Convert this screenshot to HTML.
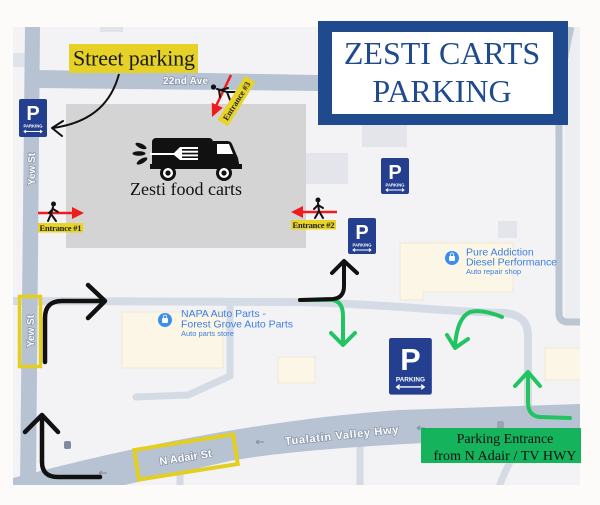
<!DOCTYPE html>
<html><head><meta charset="utf-8"><style>
html,body{margin:0;padding:0;background:#fcfbf9;}
svg{display:block;}
.rl{font-family:"Liberation Sans",sans-serif;font-weight:bold;fill:#fff;stroke:#8592a6;stroke-width:1.4;paint-order:stroke;}
.sf{font-family:"Liberation Serif",serif;}
.ss{font-family:"Liberation Sans",sans-serif;}
</style></head><body>
<svg width="600" height="505" viewBox="0 0 600 505" xmlns="http://www.w3.org/2000/svg">
<defs><clipPath id="mc"><rect x="13" y="27" width="567" height="458"/></clipPath></defs>
<rect width="600" height="505" fill="#fcfbf9"/>
<g clip-path="url(#mc)">
<rect x="13" y="27" width="567" height="458" fill="#f3f3f6"/>
<!-- light areas -->
<rect x="13" y="53" width="12" height="14" fill="#dfe3ea"/>
<rect x="100" y="27" width="23" height="5" fill="#e0e3e9"/>
<rect x="565" y="27" width="15" height="295" fill="#eceef2"/>
<!-- minor roads -->
<path d="M13,301 L300,302 C400,305 450,312 505,313 Q528,315 528,336 L528,410" stroke="#d5dbe4" stroke-width="8" fill="none"/>
<path d="M230,303 L230,376 L188,395 L136,397" stroke="#d5dbe4" stroke-width="7" fill="none" stroke-linejoin="round" stroke-linecap="round"/>
<path d="M571,27 Q558,80 559,140 L559,313 Q559,322 568,322 L582,322" stroke="#bcc6d3" stroke-width="7" fill="none"/>
<path d="M180,465 L180,490 M360,445 L360,490 M514,455 Q505,470 498,490" stroke="#d5dbe4" stroke-width="7" fill="none"/>
<!-- main roads -->
<polygon points="25,27 40,27 36,485 20,485" fill="#b7c3d2"/>
<polygon points="38,70 320,75 320,91 38,88" fill="#b7c3d2"/>
<path d="M13,478 C100,455 250,420 400,410 L580,404 L580,438 C450,440 300,448 230,461 L125,485 L13,485 Z" fill="#b7c3d2"/>
<!-- buildings -->
<rect x="122" y="312" width="101" height="56" fill="#fbf6e5" stroke="#f0e8d2" stroke-width="1"/>
<rect x="278" y="357" width="37" height="26" fill="#fbf6e5" stroke="#f0e8d2" stroke-width="1"/>
<polygon points="400,243 513,243 513,292 423,292 423,300 400,300" fill="#fbf6e5" stroke="#f0e8d2" stroke-width="1"/>
<rect x="545" y="348" width="36" height="32" fill="#fbf6e5" stroke="#f0e8d2" stroke-width="1"/>
<rect x="362" y="125" width="45" height="22" fill="#e3e5ea"/>
<rect x="305" y="153" width="43" height="31" fill="#e3e5ea"/>
<rect x="498" y="221" width="19" height="17" fill="#e3e5ea"/>
<!-- lot -->
<rect x="66" y="104" width="240" height="144" fill="#d4d4d5"/>
</g>
<!-- small road arrows / icons -->
<g stroke="#8a96a8" stroke-width="1.2" fill="none">
<path d="M256,442 H264 M256,442 l3,-2 M256,442 l3,2"/>
<path d="M417,428 H425 M417,428 l3,-2 M417,428 l3,2"/>
<path d="M99,473 H107 M99,473 l3,-2 M99,473 l3,2"/>
</g>
<rect x="64" y="441" width="7" height="8" rx="2" fill="#7f8b9c"/>
<rect x="497" y="421" width="7" height="8" rx="2" fill="#9aa5b4"/>

<!-- road labels -->
<text class="rl" x="163" y="84" font-size="10" textLength="45">22nd Ave</text>
<text class="rl" font-size="10" text-anchor="middle" transform="translate(35,169) rotate(-90)">Yew St</text>
<text class="rl" font-size="10" text-anchor="middle" transform="translate(34,331) rotate(-90)">Yew St</text>
<text class="rl" font-size="11" text-anchor="middle" transform="translate(342,439) rotate(-6)" textLength="114">Tualatin Valley Hwy</text>
<text class="rl" font-size="11" text-anchor="middle" transform="translate(186,461) rotate(-9)">N Adair St</text>

<!-- yellow boxes -->
<rect x="19.5" y="296.5" width="21" height="70" fill="none" stroke="#e3cf1f" stroke-width="3.5"/>
<rect x="-50" y="-15" width="100" height="30" fill="none" stroke="#e3cf1f" stroke-width="4" transform="translate(186,457) rotate(-9)"/>

<!-- POI labels -->
<circle cx="165" cy="320" r="7" fill="#3b8ef0"/>
<rect x="162" y="318" width="6" height="5" rx="1" fill="#fff"/>
<path d="M163.5,318 v-1.5 a1.5,1.5 0 0 1 3,0 v1.5" stroke="#fff" stroke-width="0.8" fill="none"/>
<g class="ss" fill="#3d7fe0">
<text x="181" y="317" font-size="10.5">NAPA Auto Parts -</text>
<text x="181" y="327.5" font-size="10.5" textLength="112">Forest Grove Auto Parts</text>
<text x="181" y="336" font-size="7.5">Auto parts store</text>
</g>
<circle cx="452" cy="258" r="7" fill="#3b8ef0"/>
<rect x="449" y="256" width="6" height="5" rx="1" fill="#fff"/>
<path d="M450.5,256 v-1.5 a1.5,1.5 0 0 1 3,0 v1.5" stroke="#fff" stroke-width="0.8" fill="none"/>
<g class="ss" fill="#3d7fe0">
<text x="466" y="255.5" font-size="10.5">Pure Addiction</text>
<text x="466" y="265.5" font-size="10.5" textLength="91">Diesel Performance</text>
<text x="466" y="274" font-size="7.5">Auto repair shop</text>
</g>

<!-- parking signs -->
<g transform="translate(19,99)">
<rect width="28" height="38" rx="2" fill="#243f8f"/>
<text x="14" y="21" class="ss" font-weight="bold" font-size="20" fill="#fff" text-anchor="middle">P</text>
<text x="14" y="28.5" class="ss" font-weight="bold" font-size="4.2" fill="#fff" text-anchor="middle">PARKING</text>
<path d="M5,32.5 H23 M7,31 L5,32.5 L7,34 M21,31 L23,32.5 L21,34" stroke="#fff" stroke-width="0.9" fill="none"/>
</g>
<g transform="translate(381,158)">
<rect width="28" height="36" rx="2" fill="#243f8f"/>
<text x="14" y="21" class="ss" font-weight="bold" font-size="20" fill="#fff" text-anchor="middle">P</text>
<text x="14" y="28.5" class="ss" font-weight="bold" font-size="4.2" fill="#fff" text-anchor="middle">PARKING</text>
<path d="M5,32 H23 M7,30.5 L5,32 L7,33.5 M21,30.5 L23,32 L21,33.5" stroke="#fff" stroke-width="0.9" fill="none"/>
</g>
<g transform="translate(348,218)">
<rect width="28" height="36" rx="2" fill="#243f8f"/>
<text x="14" y="21" class="ss" font-weight="bold" font-size="20" fill="#fff" text-anchor="middle">P</text>
<text x="14" y="28.5" class="ss" font-weight="bold" font-size="4.2" fill="#fff" text-anchor="middle">PARKING</text>
<path d="M5,32 H23 M7,30.5 L5,32 L7,33.5 M21,30.5 L23,32 L21,33.5" stroke="#fff" stroke-width="0.9" fill="none"/>
</g>
<g transform="translate(389,338) scale(1.53)">
<rect width="28" height="37" rx="1.5" fill="#243f8f"/>
<text x="14" y="21" class="ss" font-weight="bold" font-size="20" fill="#fff" text-anchor="middle">P</text>
<text x="14" y="28.5" class="ss" font-weight="bold" font-size="4.2" fill="#fff" text-anchor="middle">PARKING</text>
<path d="M5,32 H23 M7,30.5 L5,32 L7,33.5 M21,30.5 L23,32 L21,33.5" stroke="#fff" stroke-width="0.9" fill="none"/>
</g>

<!-- truck logo -->
<g fill="#111">
<rect x="152" y="138" width="61" height="30" rx="4"/>
<path d="M213,141 L227,141 Q231,141 232,144 L238,158 L240,169 L213,169 Z"/>
<rect x="150" y="164" width="92" height="5"/>
<ellipse cx="141" cy="146" rx="6" ry="2.3" transform="rotate(25 141 146)"/>
<ellipse cx="139" cy="153.5" rx="6.5" ry="2.3"/>
<ellipse cx="142" cy="161" rx="6" ry="2.3" transform="rotate(-30 142 161)"/>
<circle cx="168" cy="173" r="8"/>
<circle cx="224" cy="173" r="8"/>
</g>
<g fill="#fff">
<path d="M217,144 L229,144 L233,154 L217,154 Z"/>
<path d="M150,153 H174 L180,147 H182 V160 H180 L174,155 H150 Z"/>
<rect x="181" y="147" width="17" height="2"/>
<rect x="181" y="150.7" width="17" height="2"/>
<rect x="181" y="154.4" width="17" height="2"/>
<rect x="181" y="158" width="17" height="2"/>
<circle cx="168" cy="173" r="5"/>
<circle cx="224" cy="173" r="5"/>
</g>
<circle cx="168" cy="173" r="2.6" fill="#111"/>
<circle cx="224" cy="173" r="2.6" fill="#111"/>
<text x="186" y="195" class="sf" font-size="18" fill="#111" text-anchor="middle" textLength="112">Zesti food carts</text>

<!-- entrances -->
<path d="M38,213 H74" stroke="#ee1c1c" stroke-width="2.5"/>
<polygon points="72,207 84,213 72,219" fill="#ee1c1c"/>
<g stroke="#111" stroke-width="2" fill="none" stroke-linecap="round">
<path d="M53,207 L51,214 L48,221 M51,214 L56,221 M53,209 L49,213 M53,209 L58,212"/>
</g>
<circle cx="53.5" cy="204" r="2.5" fill="#111"/>
<rect x="38" y="223" width="45" height="9.5" fill="#e8d426"/>
<text x="60.5" y="231" class="sf" font-size="8.5" font-weight="bold" fill="#222" text-anchor="middle" textLength="42">Entrance #1</text>

<path d="M337,212 H301" stroke="#ee1c1c" stroke-width="2.5"/>
<polygon points="303,206 291,212 303,218" fill="#ee1c1c"/>
<g stroke="#111" stroke-width="2" fill="none" stroke-linecap="round">
<path d="M318,203 L319,211 L315,218 M319,211 L323,218 M318,205 L314,209 M318,205 L323,208"/>
</g>
<circle cx="318" cy="200" r="2.5" fill="#111"/>
<rect x="291" y="220" width="45" height="9.5" fill="#e8d426"/>
<text x="313.5" y="228" class="sf" font-size="8.5" font-weight="bold" fill="#222" text-anchor="middle" textLength="42">Entrance #2</text>

<path d="M231,75 L216,106" stroke="#ee1c1c" stroke-width="2.5"/>
<polygon points="212,117 222.8,107.7 211.8,102.7" fill="#ee1c1c"/>
<g stroke="#111" stroke-width="2" fill="none" stroke-linecap="round">
<path d="M217,89 L227,92 L235,92 M227,92 L230,100 M219,90 L220,97 M221,90 L228,88"/>
</g>
<circle cx="213.5" cy="87" r="2.6" fill="#111"/>
<g transform="translate(236.5,101) rotate(-58)">
<rect x="-26" y="-6" width="52" height="12" fill="#e8d426"/>
<text x="0" y="3" class="sf" font-size="8.5" font-weight="bold" fill="#222" text-anchor="middle" textLength="44">Entrance #3</text>
</g>

<!-- street parking label + arrow -->
<rect x="69" y="44" width="129" height="29" fill="#e6d227"/>
<text x="73" y="65.5" class="sf" font-size="22" fill="#1a1a1a" textLength="122">Street parking</text>
<path d="M119,74 C112,100 95,122 53,128" stroke="#111" stroke-width="2" fill="none"/>
<path d="M63,121 L52,128 L62,136" stroke="#111" stroke-width="2" fill="none" stroke-linecap="round" stroke-linejoin="round"/>

<!-- title -->
<rect x="318" y="21" width="250" height="104" fill="#1f4b8e"/>
<rect x="332" y="32" width="221" height="82" fill="#fff"/>
<text x="442" y="64" class="sf" font-size="32" fill="#1f4b8e" text-anchor="middle">ZESTI CARTS</text>
<text x="442" y="102" class="sf" font-size="32" fill="#1f4b8e" text-anchor="middle">PARKING</text>

<!-- green arrows -->
<g stroke="#22c462" stroke-width="4" fill="none" stroke-linecap="round" stroke-linejoin="round">
<path d="M300,300 L332,300 Q343,301 343,316 L343,344"/>
<path d="M331,333 L343,345 L355,333"/>
<path d="M502,317 Q482,309 470,312 Q457,318 455,346"/>
<path d="M447,335 L455,348 L468,339"/>
<path d="M570,418 L540,417 Q528,416 528,402 L528,374"/>
<path d="M515,386 L528,372 L540,386"/>
</g>
<!-- black arrows -->
<g stroke="#111" stroke-width="4.5" fill="none" stroke-linecap="round" stroke-linejoin="round">
<path d="M45,362 L45,318 Q45,301 62,301 L104,301"/>
<path d="M88,285 L105,301 L88,318"/>
<path d="M100,477 L58,477 Q42,477 42,462 L42,417"/>
<path d="M25,432 L42,415 L58,432"/>
</g>
<g stroke="#111" stroke-width="4" fill="none" stroke-linecap="round" stroke-linejoin="round">
<path d="M300,300 L333,299 Q344,298 344,286 L344,263"/>
<path d="M332,273 L344,261 L357,273"/>
</g>

<!-- green label -->
<rect x="421" y="428" width="160" height="35" fill="#14b35c"/>
<text x="505" y="443" class="sf" font-size="14" fill="#111" text-anchor="middle">Parking Entrance</text>
<text x="505" y="460" class="sf" font-size="14" fill="#111" text-anchor="middle" textLength="143">from N Adair / TV HWY</text>
</svg>
</body></html>
